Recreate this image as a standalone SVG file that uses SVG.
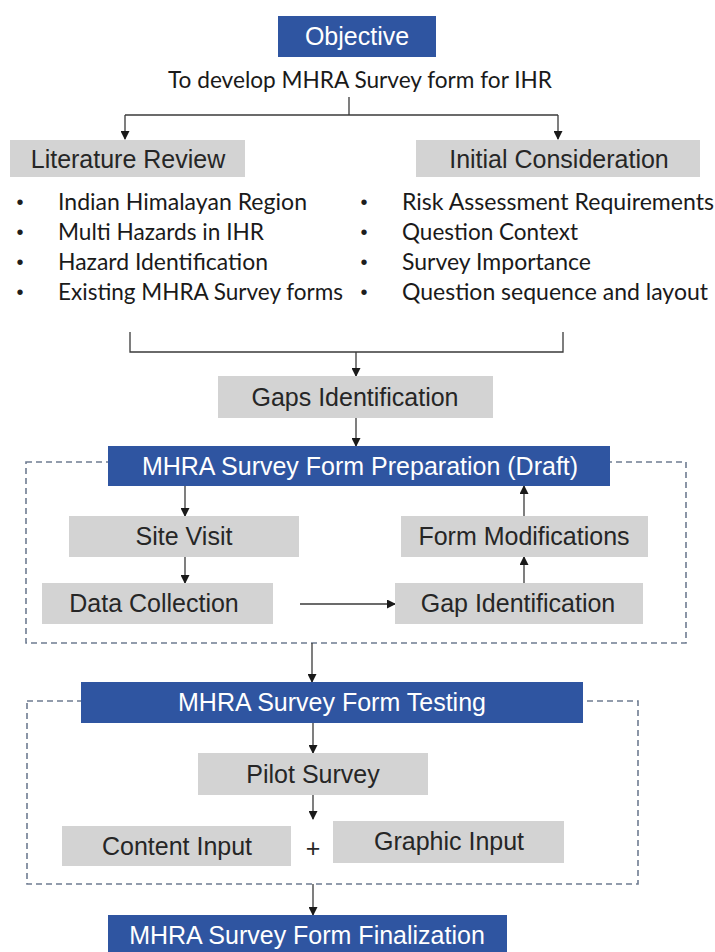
<svg xmlns="http://www.w3.org/2000/svg" width="715" height="952" viewBox="0 0 715 952">
  <defs>
    <marker id="arrow" markerUnits="userSpaceOnUse" markerWidth="9" markerHeight="9" refX="8" refY="4.5" orient="auto">
      <path d="M0,0 L9,4.5 L0,9 z" fill="#1a1a1a"/>
    </marker>
    <style>
      .blue { fill: #2f55a1; }
      .gray { fill: #d3d3d3; }
      .lbl { font-family: "Liberation Sans", Arial, sans-serif; font-size: 25px; text-anchor: middle; }
      .wt { fill: #ffffff; }
      .dk { fill: #262626; }
      .body { font-family: Lato, "Open Sans", sans-serif; font-size: 23px; fill: #1a1a1a; }
      .bul { font-family: "Liberation Sans", Arial, sans-serif; font-size: 20px; fill: #1e1e1e; text-anchor: middle; }
      .conn { fill: none; stroke: #3a3a3a; stroke-width: 1.3; }
      .frame { fill: none; stroke: #6f7c91; stroke-width: 1.6; stroke-dasharray: 6 4; }
    </style>
  </defs>
  <rect width="715" height="952" fill="#ffffff"/>

  <!-- dashed stage frames -->
  <g id="frames">
    <rect class="frame" x="26" y="462" width="660" height="181"/>
    <rect class="frame" x="27" y="701" width="611" height="183"/>
  </g>

  <!-- connectors -->
  <g id="connectors">
    <path class="conn" d="M349,97 V115"/>
    <path class="conn" d="M125,115 H558"/>
    <path class="conn" d="M125,115 V139" marker-end="url(#arrow)"/>
    <path class="conn" d="M558,115 V139" marker-end="url(#arrow)"/>
    <path class="conn" d="M130,332 V352 H563 V332"/>
    <path class="conn" d="M356,352 V376" marker-end="url(#arrow)"/>
    <path class="conn" d="M356,418 V446" marker-end="url(#arrow)"/>
    <path class="conn" d="M185,486 V516" marker-end="url(#arrow)"/>
    <path class="conn" d="M185,557 V583" marker-end="url(#arrow)"/>
    <path class="conn" d="M300,604 H395" marker-end="url(#arrow)"/>
    <path class="conn" d="M524,583 V557" marker-end="url(#arrow)"/>
    <path class="conn" d="M524,516 V486" marker-end="url(#arrow)"/>
    <path class="conn" d="M312,643 V682" marker-end="url(#arrow)"/>
    <path class="conn" d="M313,723 V753" marker-end="url(#arrow)"/>
    <path class="conn" d="M313,795 V819" marker-end="url(#arrow)"/>
    <path class="conn" d="M313,884 V915" marker-end="url(#arrow)"/>
  </g>

  <g id="objective">
    <rect class="blue" x="278" y="16" width="158" height="41"/>
    <text class="lbl wt" x="357" y="45">Objective</text>
  </g>
  <g id="goal">
    <text class="body" x="360" y="88" text-anchor="middle" font-size="22" textLength="384" lengthAdjust="spacingAndGlyphs">To develop MHRA Survey form for IHR</text>
  </g>

  <g id="literature-review">
    <rect class="gray" x="10" y="140" width="235" height="37"/>
    <text class="lbl dk" x="128" y="168">Literature Review</text>
    <g>
      <text class="bul" x="20" y="209">•</text>
      <text class="bul" x="20" y="239">•</text>
      <text class="bul" x="20" y="269">•</text>
      <text class="bul" x="20" y="299">•</text>
      <text class="body" x="58" y="210" textLength="249" lengthAdjust="spacingAndGlyphs">Indian Himalayan Region</text>
      <text class="body" x="58" y="240" textLength="206" lengthAdjust="spacingAndGlyphs">Multi Hazards in IHR</text>
      <text class="body" x="58" y="270" textLength="210" lengthAdjust="spacingAndGlyphs">Hazard Identification</text>
      <text class="body" x="58" y="300" textLength="285" lengthAdjust="spacingAndGlyphs">Existing MHRA Survey forms</text>
    </g>
  </g>

  <g id="initial-consideration">
    <rect class="gray" x="416" y="140" width="284" height="37"/>
    <text class="lbl dk" x="559" y="168">Initial Consideration</text>
    <g>
      <text class="bul" x="364" y="209">•</text>
      <text class="bul" x="364" y="239">•</text>
      <text class="bul" x="364" y="269">•</text>
      <text class="bul" x="364" y="299">•</text>
      <text class="body" x="402" y="210" textLength="312" lengthAdjust="spacingAndGlyphs">Risk Assessment Requirements</text>
      <text class="body" x="402" y="240" textLength="176" lengthAdjust="spacingAndGlyphs">Question Context</text>
      <text class="body" x="402" y="270" textLength="189" lengthAdjust="spacingAndGlyphs">Survey Importance</text>
      <text class="body" x="402" y="300" textLength="306" lengthAdjust="spacingAndGlyphs">Question sequence and layout</text>
    </g>
  </g>

  <g id="gaps-identification">
    <rect class="gray" x="218" y="376" width="275" height="42"/>
    <text class="lbl dk" x="355" y="406">Gaps Identification</text>
  </g>

  <g id="form-preparation">
    <rect class="blue" x="108" y="446" width="502" height="40"/>
    <text class="lbl wt" x="360" y="475">MHRA Survey Form Preparation (Draft)</text>
  </g>

  <g id="site-visit">
    <rect class="gray" x="69" y="516" width="230" height="41"/>
    <text class="lbl dk" x="184" y="545">Site Visit</text>
  </g>

  <g id="form-modifications">
    <rect class="gray" x="401" y="516" width="247" height="41"/>
    <text class="lbl dk" x="524" y="545">Form Modifications</text>
  </g>

  <g id="data-collection">
    <rect class="gray" x="42" y="583" width="231" height="41"/>
    <text class="lbl dk" x="154" y="612">Data Collection</text>
  </g>

  <g id="gap-identification">
    <rect class="gray" x="395" y="583" width="248" height="41"/>
    <text class="lbl dk" x="518" y="612">Gap Identification</text>
  </g>

  <g id="form-testing">
    <rect class="blue" x="81" y="682" width="502" height="41"/>
    <text class="lbl wt" x="332" y="711">MHRA Survey Form Testing</text>
  </g>

  <g id="pilot-survey">
    <rect class="gray" x="198" y="753" width="230" height="42"/>
    <text class="lbl dk" x="313" y="783">Pilot Survey</text>
  </g>

  <g id="content-input">
    <rect class="gray" x="62" y="826" width="229" height="40"/>
    <text class="lbl dk" x="177" y="855">Content Input</text>
  </g>

  <g id="plus">
    <text class="lbl dk" x="313" y="857">+</text>
  </g>

  <g id="graphic-input">
    <rect class="gray" x="333" y="821" width="231" height="42"/>
    <text class="lbl dk" x="449" y="850">Graphic Input</text>
  </g>

  <g id="form-finalization">
    <rect class="blue" x="108" y="915" width="399" height="40"/>
    <text class="lbl wt" x="307" y="944">MHRA Survey Form Finalization</text>
  </g>
</svg>
